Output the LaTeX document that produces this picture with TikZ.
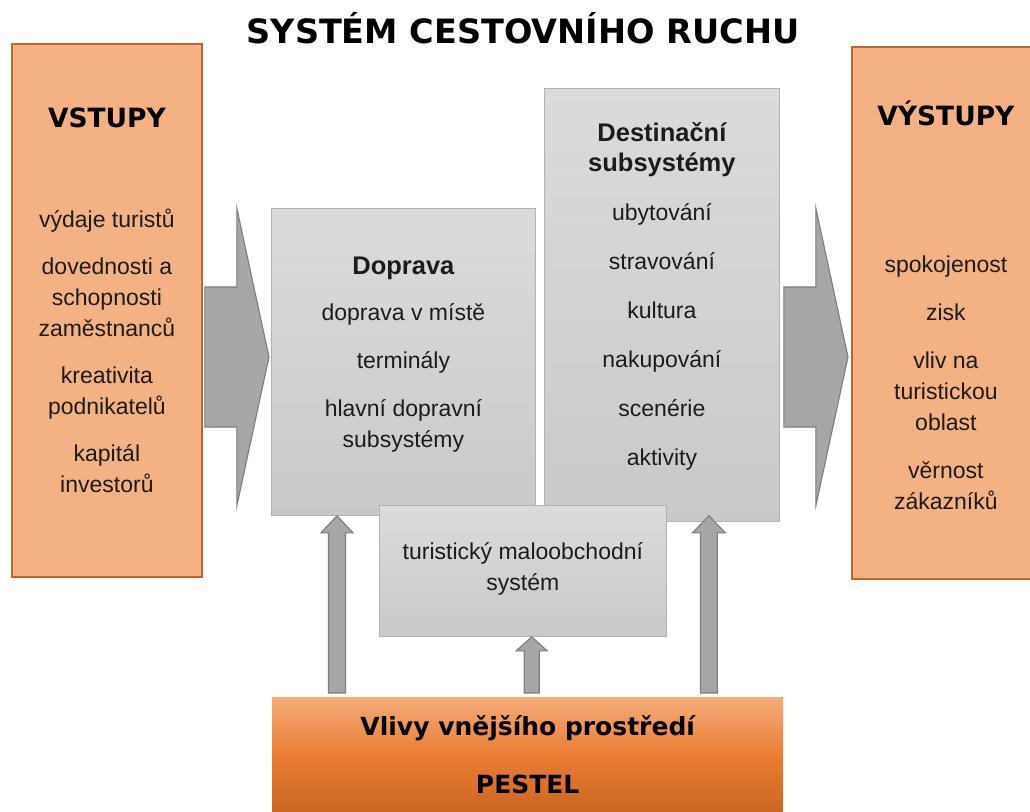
\documentclass[tikz,border=0pt]{standalone}
\usepackage{fontspec}
\setmainfont{Liberation Sans}
\newfontfamily\heavyfont{DejaVu Sans}
\usepackage{xcolor}
\usetikzlibrary{positioning,calc}

\definecolor{orangefill}{RGB}{244,177,131}
\definecolor{orangeline}{RGB}{190,102,48}
\definecolor{graytop}{RGB}{219,219,219}
\definecolor{graybot}{RGB}{201,201,201}
\definecolor{grayline}{RGB}{178,178,178}
\definecolor{arrowfill}{RGB}{166,166,166}
\definecolor{arrowline}{RGB}{125,125,125}
\definecolor{pesteltop}{RGB}{244,172,122}
\definecolor{pestelmid}{RGB}{233,124,50}
\definecolor{pestelbot}{RGB}{200,100,35}
\definecolor{textdark}{RGB}{28,28,28}

\begin{document}
\begin{tikzpicture}[x=1pt, y=-1pt, >=stealth]
        \tikzstyle{orangebox} = [rectangle, draw=orangeline, line width=1.8pt, fill=orangefill, anchor=north west, inner sep=0pt]
        \tikzstyle{graybox} = [rectangle, draw=grayline, line width=0.8pt, top color=graytop, bottom color=graybot, anchor=north west, inner sep=0pt]
        \tikzstyle{itemtext} = [align=center, anchor=base, inner sep=0pt, text=textdark, font=\fontsize{23}{31}\selectfont]
        \tikzstyle{headtext} = [itemtext, font=\bfseries\fontsize{25.5}{30}\selectfont]
        \tikzstyle{heavytext} = [align=center, anchor=base, inner sep=0pt, text=black, font=\heavyfont\bfseries\fontsize{26.5}{30}\selectfont]
        \tikzstyle{bigarrow} = [draw=arrowline, line width=1.1pt, fill=arrowfill, line join=miter]

        \useasboundingbox (0,0) rectangle (1030,811);

        % Boxes
        \node [orangebox, minimum width=190pt, minimum height=533pt] (vstupy) at (11,43) {};
        \node [orangebox, minimum width=188pt, minimum height=532pt] (vystupy) at (851,46) {};
        \node [graybox, minimum width=264pt, minimum height=307pt] (doprava) at (271,208) {};
        \node [graybox, minimum width=235pt, minimum height=433pt] (destinace) at (544,88) {};
        \node [graybox, minimum width=287pt, minimum height=131pt] (maloobchod) at (379,505) {};
        \node [rectangle, anchor=north west, inner sep=0pt, minimum width=511pt, minimum height=120pt,
               top color=pesteltop, bottom color=pestelbot, middle color=pestelmid] (vlivy) at (272,697) {};

        % Title
        \node [heavytext, font=\heavyfont\bfseries\fontsize{33.5}{40}\selectfont] (title) at (523,43) {SYSTÉM CESTOVNÍHO RUCHU};

        % Inputs and outputs (base = last line)
        \node [heavytext, below=84pt of vstupy.north, anchor=base] (vstupyhead) {VSTUPY};
        \node [itemtext, below=449pt of vstupy.north, anchor=base] (vstupylist)
              {výdaje turistů\\[16pt] dovednosti a\\ schopnosti\\ zaměstnanců\\[16pt] kreativita\\ podnikatelů\\[16pt] kapitál\\ investorů};
        \node [heavytext, below=79pt of vystupy.north, anchor=base] (vystupyhead) {VÝSTUPY};
        \node [itemtext, below=463pt of vystupy.north, anchor=base] (vystupylist)
              {spokojenost\\[17pt] zisk\\[17pt] vliv na\\ turistickou\\ oblast\\[17pt] věrnost\\ zákazníků};

        % Subsystems
        \node [headtext, below=66pt of doprava.north, anchor=base] (dopravahead) {Doprava};
        \node [itemtext, below=239pt of doprava.north, anchor=base] (dopravalist)
              {doprava v místě\\[17pt] terminály\\[17pt] hlavní dopravní\\ subsystémy};
        \node [headtext, below=83pt of destinace.north, anchor=base] (destinacehead) {Destinační\\ subsystémy};
        \node [itemtext, below=377pt of destinace.north, anchor=base] (destinacelist)
              {ubytování\\[18pt] stravování\\[18pt] kultura\\[18pt] nakupování\\[18pt] scenérie\\[18pt] aktivity};
        \node [itemtext, below=85pt of maloobchod.north, anchor=base] (maloobchodtext) {turistický maloobchodní\\ systém};

        % Environment
        \node [heavytext, font=\heavyfont\bfseries\fontsize{25}{30}\selectfont, below=96pt of vlivy.north, anchor=base] (vlivytext)
              {Vlivy vnějšího prostředí\\[28pt] PESTEL};

        % Input / output arrows
        \coordinate (mid) at (0,357);
        \coordinate (a) at ($(vstupy.east |- mid)+(2,0)$);
        \coordinate (b) at ($(doprava.west |- mid)+(-2,0)$);
        \draw [bigarrow] ($(a)+(0,-70)$) -- ($(a)+(32,-70)$) -- ($(a)+(32,-149)$) -- (b)
              -- ($(a)+(32,149)$) -- ($(a)+(32,70)$) -- ($(a)+(0,70)$) -- cycle;
        \coordinate (c) at ($(destinace.east |- mid)+(4,0)$);
        \coordinate (d) at ($(vystupy.west |- mid)+(-3,0)$);
        \draw [bigarrow] ($(c)+(0,-70)$) -- ($(c)+(32,-70)$) -- ($(c)+(32,-149)$) -- (d)
              -- ($(c)+(32,149)$) -- ($(c)+(32,70)$) -- ($(c)+(0,70)$) -- cycle;

        % Environment arrows
        \coordinate (e) at ($(vlivy.north west)+(65,-4)$);
        \coordinate (f) at (e |- doprava.south);
        \draw [bigarrow] ($(e)+(-8.5,0)$) -- ($(f)+(-8.5,17)$) -- ($(f)+(-16,17)$) -- (f)
              -- ($(f)+(16,17)$) -- ($(f)+(8.5,17)$) -- ($(e)+(8.5,0)$) -- cycle;
        \coordinate (g) at ($(vlivy.north)+(4,-4)$);
        \coordinate (h) at (g |- maloobchod.south);
        \draw [bigarrow] ($(g)+(-7.5,0)$) -- ($(h)+(-7.5,14)$) -- ($(h)+(-15.5,14)$) -- (h)
              -- ($(h)+(15.5,14)$) -- ($(h)+(7.5,14)$) -- ($(g)+(7.5,0)$) -- cycle;
        \coordinate (i) at ($(vlivy.north east)+(-74.5,-4)$);
        \coordinate (j) at (i |- doprava.south);
        \draw [bigarrow] ($(i)+(-8.5,0)$) -- ($(j)+(-8.5,17)$) -- ($(j)+(-16.5,17)$) -- (j)
              -- ($(j)+(16.5,17)$) -- ($(j)+(8.5,17)$) -- ($(i)+(8.5,0)$) -- cycle;
    \end{tikzpicture}
\end{document}
